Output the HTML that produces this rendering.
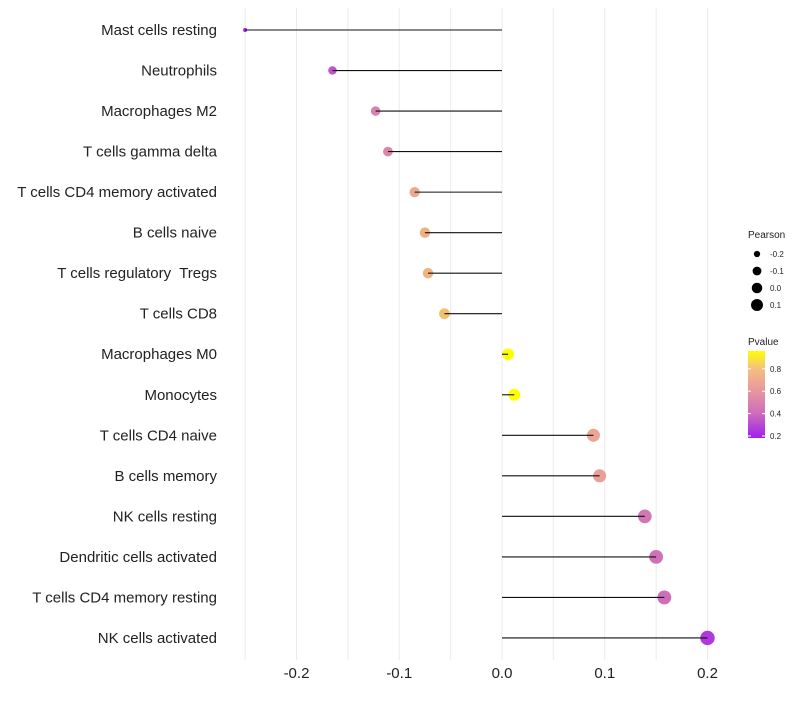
<!DOCTYPE html>
<html><head><meta charset="utf-8"><style>
body{margin:0;background:#fff;}
svg text{font-family:"Liberation Sans",sans-serif;white-space:pre;}
</style></head><body>
<svg id="chart" width="800" height="700">
<defs><linearGradient id="pg" x1="0" y1="1" x2="0" y2="0">
<stop offset="0" stop-color="#A020F0"/><stop offset="0.3" stop-color="#D070B8"/>
<stop offset="0.6" stop-color="#EBA098"/><stop offset="0.8" stop-color="#F5C080"/><stop offset="1" stop-color="#FFFF00"/></linearGradient></defs>
<g id="grid"></g><g id="marks"></g><g id="labels"></g><g id="legend"></g>
</svg>
<script>
const categories=["Mast cells resting","Neutrophils","Macrophages M2","T cells gamma delta","T cells CD4 memory activated","B cells naive","T cells regulatory  Tregs","T cells CD8","Macrophages M0","Monocytes","T cells CD4 naive","B cells memory","NK cells resting","Dendritic cells activated","T cells CD4 memory resting","NK cells activated"];
const pearson=[-0.25,-0.165,-0.123,-0.111,-0.085,-0.075,-0.072,-0.056,0.006,0.012,0.089,0.095,0.139,0.150,0.158,0.200];
const pvalues=[0.16,0.33,0.5,0.52,0.68,0.74,0.76,0.84,0.98,0.97,0.66,0.64,0.45,0.42,0.41,0.24];
const xTicks=[-0.2,-0.1,0.0,0.1,0.2];
const xTickLabels=["-0.2","-0.1","0.0","0.1","0.2"];
const NS="http://www.w3.org/2000/svg";
const X=v=>502+v*1027.5;
const Y=i=>30+i*40.53;
const R=v=>2+5.2*Math.sqrt(Math.max(0,(v+0.25)/0.45));
function col(p){const st=[[0.16,[160,32,240]],[0.42,[208,112,184]],[0.66,[235,165,148]],[0.84,[242,192,112]],[0.97,[255,255,0]]];
 if(p<=st[0][0])return `rgb(${st[0][1]})`;
 for(let k=1;k<st.length;k++){if(p<=st[k][0]){const t=(p-st[k-1][0])/(st[k][0]-st[k-1][0]);const a=st[k-1][1],b=st[k][1];return `rgb(${a.map((c,j)=>Math.round(c+(b[j]-c)*t)).join(',')})`;}}
 return 'rgb(255,255,0)';}
function el(tag,at,parent,txt){const e=document.createElementNS(NS,tag);for(const k in at)e.setAttribute(k,at[k]);if(txt!==undefined)e.textContent=txt;parent.appendChild(e);return e;}
const grid=document.getElementById('grid'),marks=document.getElementById('marks'),labels=document.getElementById('labels'),legend=document.getElementById('legend');
for(let v=-0.25;v<=0.2001;v+=0.05){const g=el('line',{x1:X(v),x2:X(v),y1:8,y2:660,stroke:'#ebebeb','stroke-width':1},grid);

}
xTicks.forEach((v,i)=>{const t=el('text',{x:X(v),y:678,'text-anchor':'middle','font-size':15,fill:'#222'},labels,xTickLabels[i]);

});
categories.forEach((c,i)=>{
 const t=el('text',{x:217,y:Y(i)+5,'text-anchor':'end','font-size':15,fill:'#222'},labels,c);
 
 
 const p=el('circle',{cx:X(pearson[i]),cy:Y(i),r:R(pearson[i]),fill:col(pvalues[i])},marks);
 
 
 const s=el('line',{x1:X(0),x2:X(pearson[i]),y1:Y(i),y2:Y(i),stroke:'#111','stroke-width':1.1},marks);
 
 
});
el('text',{x:748,y:238,'font-size':10,fill:'#222'},legend,'Pearson');
[-0.2,-0.1,0.0,0.1].forEach((v,i)=>{const c=el('circle',{cx:757,cy:254+i*17,r:R(v)-0.6,fill:'#000'},legend);


el('text',{x:770,y:257+i*17,'font-size':8,fill:'#222'},legend,v.toFixed(1));});
el('text',{x:748,y:345,'font-size':10,fill:'#222'},legend,'Pvalue');
const cb=el('rect',{x:748,y:351,width:17,height:87,fill:'url(#pg)'},legend);


[0.2,0.4,0.6,0.8].forEach(v=>{const yy=436-(v-0.2)*112;
el('line',{x1:748,x2:751,y1:yy,y2:yy,stroke:'#fff'},legend);el('line',{x1:762,x2:765,y1:yy,y2:yy,stroke:'#fff'},legend);
el('text',{x:770,y:yy+3,'font-size':8,fill:'#222'},legend,v.toFixed(1));});
</script>
</body></html>
